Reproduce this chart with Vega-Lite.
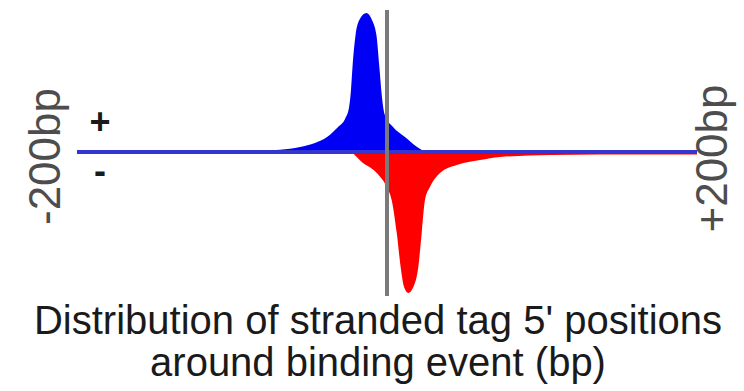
{
  "$schema": "https://vega.github.io/schema/vega-lite/v6.json",
  "width": 620,
  "height": 286,
  "autosize": {"type": "none"},
  "padding": {"left": 77, "top": 10, "right": 47, "bottom": 95},
  "background": "white",
  "config": {"view": {"stroke": null}, "font": "Liberation Sans"},
  "title": {
    "text": ["Distribution of stranded tag 5' positions", "around binding event (bp)"],
    "orient": "bottom",
    "anchor": "middle",
    "frame": "group",
    "fontSize": 40,
    "fontWeight": "normal",
    "color": "#1a1a1a",
    "baseline": "alphabetic",
    "offset": 36,
    "lineHeight": 42,
    "dx": -9
  },
  "datasets": {
    "profile": [
      {"strand": "+", "bp": -200, "v": 0},
      {"strand": "+", "bp": -160, "v": 0.002},
      {"strand": "+", "bp": -120.6, "v": 0.004},
      {"strand": "+", "bp": -88.4, "v": 0.008},
      {"strand": "+", "bp": -69, "v": 0.016},
      {"strand": "+", "bp": -56.1, "v": 0.036},
      {"strand": "+", "bp": -46.5, "v": 0.065},
      {"strand": "+", "bp": -38.7, "v": 0.108},
      {"strand": "+", "bp": -31.6, "v": 0.18},
      {"strand": "+", "bp": -27.0, "v": 0.24},
      {"strand": "+", "bp": -24.5, "v": 0.32},
      {"strand": "+", "bp": -23.2, "v": 0.45},
      {"strand": "+", "bp": -22.2, "v": 0.62},
      {"strand": "+", "bp": -20.3, "v": 0.84},
      {"strand": "+", "bp": -17.6, "v": 0.955},
      {"strand": "+", "bp": -13.3, "v": 1.0},
      {"strand": "+", "bp": -9.7, "v": 0.95},
      {"strand": "+", "bp": -6.8, "v": 0.84},
      {"strand": "+", "bp": -5.0, "v": 0.62},
      {"strand": "+", "bp": -3.3, "v": 0.4},
      {"strand": "+", "bp": -1.5, "v": 0.27},
      {"strand": "+", "bp": 3.9, "v": 0.18},
      {"strand": "+", "bp": 11.6, "v": 0.108},
      {"strand": "+", "bp": 19.4, "v": 0.036},
      {"strand": "+", "bp": 24.5, "v": 0.006},
      {"strand": "+", "bp": 34.2, "v": 0},
      {"strand": "+", "bp": 200, "v": 0},
      {"strand": "-", "bp": -200, "v": 0},
      {"strand": "-", "bp": -24.5, "v": 0},
      {"strand": "-", "bp": -15.5, "v": -0.079},
      {"strand": "-", "bp": -6.6, "v": -0.151},
      {"strand": "-", "bp": -0.2, "v": -0.252},
      {"strand": "-", "bp": 3.0, "v": -0.345},
      {"strand": "-", "bp": 6.3, "v": -0.583},
      {"strand": "-", "bp": 8.8, "v": -0.827},
      {"strand": "-", "bp": 11.0, "v": -0.971},
      {"strand": "-", "bp": 13.7, "v": -1.014},
      {"strand": "-", "bp": 17.0, "v": -0.971},
      {"strand": "-", "bp": 20.2, "v": -0.827},
      {"strand": "-", "bp": 22.4, "v": -0.583},
      {"strand": "-", "bp": 24.5, "v": -0.345},
      {"strand": "-", "bp": 27.7, "v": -0.252},
      {"strand": "-", "bp": 34.2, "v": -0.151},
      {"strand": "-", "bp": 45, "v": -0.094},
      {"strand": "-", "bp": 60, "v": -0.058},
      {"strand": "-", "bp": 72.9, "v": -0.036},
      {"strand": "-", "bp": 105.2, "v": -0.022},
      {"strand": "-", "bp": 137.4, "v": -0.018},
      {"strand": "-", "bp": 200, "v": -0.018}
    ],
    "signs": [
      {"label": "+", "bp": -185.2, "v": 0.209},
      {"label": "-", "bp": -185.2, "v": -0.144}
    ]
  },
  "layer": [
    {
      "data": {"name": "profile"},
      "transform": [{"filter": "datum.strand === '-'"}],
      "mark": {"type": "area", "color": "#ff0000", "interpolate": "monotone"},
      "encoding": {
        "x": {"field": "bp", "type": "quantitative", "scale": {"domain": [-200, 200]}, "axis": null},
        "y": {"field": "v", "type": "quantitative", "scale": {"domain": [-1.036, 1.0216], "zero": false, "nice": false},
          "axis": {"orient": "left", "title": "-200bp", "labels": false, "ticks": false, "domain": false, "grid": false,
            "titleFontSize": 44, "titleFontWeight": "normal", "titleColor": "#4d4d4d", "titleAngle": -90,
            "titleAlign": "center", "titleBaseline": "alphabetic", "titleX": -18, "titleY": 146}},
        "y2": {"datum": 0}
      }
    },
    {
      "data": {"name": "profile"},
      "transform": [{"filter": "datum.strand === '+'"}],
      "mark": {"type": "area", "color": "#0000f5", "interpolate": "monotone"},
      "encoding": {
        "x": {"field": "bp", "type": "quantitative", "axis": null},
        "y": {"field": "v", "type": "quantitative",
          "axis": {"orient": "right", "title": "+200bp", "labels": false, "ticks": false, "domain": false, "grid": false,
            "titleFontSize": 44, "titleFontWeight": "normal", "titleColor": "#4d4d4d", "titleAngle": -90,
            "titleAlign": "center", "titleBaseline": "alphabetic", "titleX": 29, "titleY": 148}},
        "y2": {"datum": 0}
      }
    },
    {
      "data": {"name": "profile"},
      "mark": {"type": "rule", "color": "#3535d0", "strokeWidth": 3},
      "encoding": {
        "x": {"datum": -200},
        "x2": {"datum": 200},
        "y": {"datum": 0, "axis": null}
      }
    },
    {
      "data": {"name": "profile"},
      "mark": {"type": "rule", "color": "#7a7a7a", "strokeWidth": 3},
      "encoding": {
        "x": {"datum": 0}
      }
    },
    {
      "data": {"name": "signs"},
      "mark": {"type": "text", "fontSize": 36, "fontWeight": "bold", "color": "#1a1a1a", "align": "center", "baseline": "middle"},
      "encoding": {
        "x": {"field": "bp", "type": "quantitative"},
        "y": {"field": "v", "type": "quantitative", "axis": null},
        "text": {"field": "label"}
      }
    }
  ],
  "resolve": {"axis": {"y": "independent"}}
}
